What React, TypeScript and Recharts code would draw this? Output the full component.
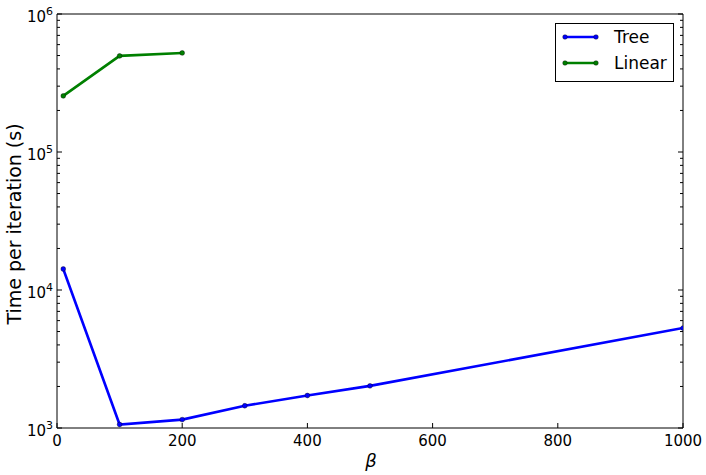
import React from "react";
import { LineChart, Line, XAxis, YAxis } from "recharts";

const treeBeta = [10, 100, 200, 300, 400, 500, 1000];
const treeTime = [14200, 1060, 1150, 1450, 1720, 2020, 5300];
const linearBeta = [10, 100, 200];
const linearTime = [255000, 497000, 522000];

const xTicks = [0, 200, 400, 600, 800, 1000];
const decades = [3, 4, 5, 6];
const minorSteps = [2, 3, 4, 5, 6, 7, 8, 9];

const treeData = treeBeta.map((b, i) => ({ beta: b, time: treeTime[i] }));
const linearData = linearBeta.map((b, i) => ({ beta: b, time: linearTime[i] }));

const yTicks: number[] = [];
decades.forEach((d) => {
  yTicks.push(Math.pow(10, d));
  if (d < 6) minorSteps.forEach((m) => yTicks.push(m * Math.pow(10, d)));
});

const FONT = "DejaVu Sans, sans-serif";
const TREE = "#0000ff";
const LINEAR = "#008000";
const MAJOR = 5;
const MINOR = 3;
const TM = 8;

const isMajor = (v: number) => {
  const l = Math.log10(v);
  return Math.abs(l - Math.round(l)) < 1e-9;
};

function LeftTick(props: any) {
  const { x, y, payload } = props;
  const v = payload.value;
  const ax = x + TM;
  const major = isMajor(v);
  return (
    <g>
      <line x1={ax} x2={ax + (major ? MAJOR : MINOR)} y1={y} y2={y} stroke="#000" />
      {major && (
        <text x={53} y={y + 8} textAnchor="end" fontFamily={FONT} fontSize={15} fill="#000">
          <tspan>10</tspan>
          <tspan dy={-7} fontSize={11}>{Math.round(Math.log10(v))}</tspan>
        </text>
      )}
    </g>
  );
}

function RightTick(props: any) {
  const { x, y, payload } = props;
  const major = isMajor(payload.value);
  return <line x1={x} x2={x - (major ? MAJOR : MINOR)} y1={y} y2={y} stroke="#000" />;
}

function BottomTick(props: any) {
  const { x, y, payload } = props;
  const ay = y - TM;
  return (
    <g>
      <line x1={x} x2={x} y1={ay} y2={ay - MAJOR} stroke="#000" />
      <text x={x} y={ay + 18} textAnchor="middle" fontFamily={FONT} fontSize={15} fill="#000">
        {payload.value}
      </text>
    </g>
  );
}

function TopTick(props: any) {
  const { x, y } = props;
  return <line x1={x} x2={x} y1={y} y2={y + MAJOR} stroke="#000" />;
}

function LegendBox() {
  const rows = [
    { name: "Tree", color: TREE },
    { name: "Linear", color: LINEAR },
  ];
  return (
    <svg width={119} height={59} style={{ position: "absolute", left: 555, top: 23 }}>
      <rect x={0.5} y={0.5} width={118} height={58} fill="#fff" stroke="#000" />
      {rows.map((r, i) => {
        const cy = 14 + i * 26;
        return (
          <g key={r.name}>
            <line x1={10} x2={41} y1={cy} y2={cy} stroke={r.color} strokeWidth={2.5} />
            <circle cx={10} cy={cy} r={2.3} fill={r.color} stroke="#000" strokeWidth={0.4} />
            <circle cx={41} cy={cy} r={2.3} fill={r.color} stroke="#000" strokeWidth={0.4} />
            <text x={59} y={cy + 6} fontFamily={FONT} fontSize={17} fill="#000">
              {r.name}
            </text>
          </g>
        );
      })}
    </svg>
  );
}

const dot = (color: string) => ({ r: 2.4, fill: color, stroke: "#000", strokeWidth: 0.4 });

export default function App() {
  return (
    <div style={{ position: "fixed", left: 0, top: 0, width: 706, height: 475, background: "#fff" }}>
      <LineChart width={706} height={475} margin={{ top: 13, right: 22, left: 0, bottom: 0 }}>
        <XAxis
          xAxisId="b"
          dataKey="beta"
          type="number"
          domain={[0, 1000]}
          ticks={xTicks}
          orientation="bottom"
          height={47}
          tickSize={0}
          tickMargin={TM}
          tick={<BottomTick />}
          axisLine={{ stroke: "#000" }}
          allowDataOverflow
        />
        <XAxis
          xAxisId="t"
          dataKey="beta"
          type="number"
          domain={[0, 1000]}
          ticks={xTicks}
          orientation="top"
          height={1}
          tickSize={0}
          tickMargin={0}
          tick={<TopTick />}
          axisLine={{ stroke: "#000" }}
        />
        <YAxis
          yAxisId="l"
          dataKey="time"
          scale="log"
          domain={[1000, 1000000]}
          ticks={yTicks}
          orientation="left"
          width={57}
          tickSize={0}
          tickMargin={TM}
          tick={<LeftTick />}
          axisLine={{ stroke: "#000" }}
          allowDataOverflow
          interval={0}
        />
        <YAxis
          yAxisId="r"
          dataKey="time"
          scale="log"
          domain={[1000, 1000000]}
          ticks={yTicks}
          orientation="right"
          width={1}
          tickSize={0}
          tickMargin={0}
          tick={<RightTick />}
          axisLine={{ stroke: "#000" }}
          allowDataOverflow
          interval={0}
        />
        <Line
          xAxisId="b"
          yAxisId="l"
          data={treeData}
          dataKey="time"
          name="Tree"
          stroke={TREE}
          strokeWidth={2.6}
          dot={dot(TREE)}
          activeDot={false}
          isAnimationActive={false}
        />
        <Line
          xAxisId="b"
          yAxisId="l"
          data={linearData}
          dataKey="time"
          name="Linear"
          stroke={LINEAR}
          strokeWidth={2.6}
          dot={dot(LINEAR)}
          activeDot={false}
          isAnimationActive={false}
        />
        <text
          x={15}
          y={224}
          transform="rotate(-90 15 224)"
          textAnchor="middle"
          dominantBaseline="middle"
          fontFamily={FONT}
          fontSize={19}
          fill="#000"
        >
          Time per iteration (s)
        </text>
        <text x={371} y={467} textAnchor="middle" fontFamily={FONT} fontStyle="italic" fontSize={18} fill="#000">
          β
        </text>
      </LineChart>
      <LegendBox />
    </div>
  );
}
